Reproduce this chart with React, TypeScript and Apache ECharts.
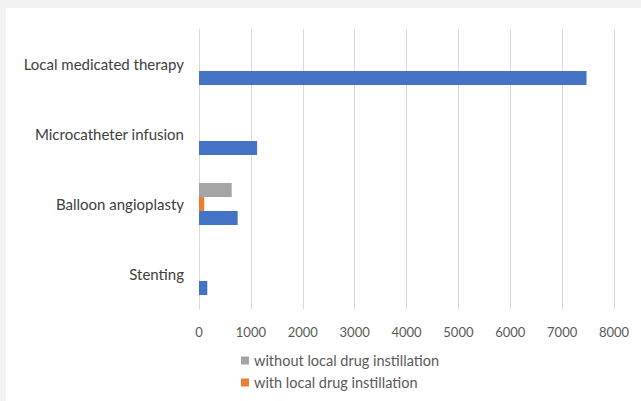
import React, { useEffect, useRef } from "react";
import * as echarts from "echarts";

const categories = ["Stenting", "Balloon angioplasty", "Microcatheter infusion", "Local medicated therapy"];
const withoutInstillation = [0, 630, 0, 0];
const withInstillation = [0, 100, 0, 0];
const totalCases = [160, 745, 1120, 7470];
const legendNames = ["without local drug instillation", "with local drug instillation"];

export default function App() {
  const ref = useRef<HTMLDivElement>(null);
  useEffect(() => {
    const chart = echarts.init(ref.current!, null, { renderer: "svg" });
    const font = "Lato, 'Open Sans', sans-serif";
    chart.setOption({
      animation: false,
      backgroundColor: "#f2f2f2",
      graphic: [
        { type: "rect", z: -10, silent: true, shape: { x: 6, y: 8, width: 635, height: 393 }, style: { fill: "#ffffff" } },
      ],
      grid: { left: 199, right: 27, top: 29, height: 280 },
      legend: {
        data: legendNames,
        orient: "vertical",
        left: 236,
        top: 348,
        itemWidth: 8,
        itemHeight: 8,
        itemGap: 7,
        icon: "rect",
        textStyle: { color: "#595959", fontSize: 14.5, fontFamily: font },
      },
      xAxis: {
        type: "value",
        min: 0,
        max: 8000,
        interval: 1000,
        axisLine: { show: false },
        axisTick: { show: false },
        splitLine: { lineStyle: { color: "#d9d9d9", width: 1 } },
        axisLabel: { color: "#595959", fontSize: 13, fontFamily: font, margin: 16, formatter: (v: number) => String(v) },
      },
      yAxis: {
        type: "category",
        data: categories,
        axisLine: { show: true, lineStyle: { color: "#d9d9d9" } },
        axisTick: { show: false },
        axisLabel: { color: "#404040", fontSize: 15, fontFamily: font, margin: 15 },
      },
      series: [
        { name: legendNames[0], type: "bar", data: withoutInstillation, itemStyle: { color: "#a5a5a5" }, barGap: "0%", barCategoryGap: "40%" },
        { name: legendNames[1], type: "bar", data: withInstillation, itemStyle: { color: "#ed7d31" } },
        { name: "total", type: "bar", data: totalCases, itemStyle: { color: "#4472c4" } },
      ],
    });
    return () => chart.dispose();
  }, []);
  return <div ref={ref} style={{ position: "absolute", left: 0, top: 0, width: 641, height: 401 }} />;
}
